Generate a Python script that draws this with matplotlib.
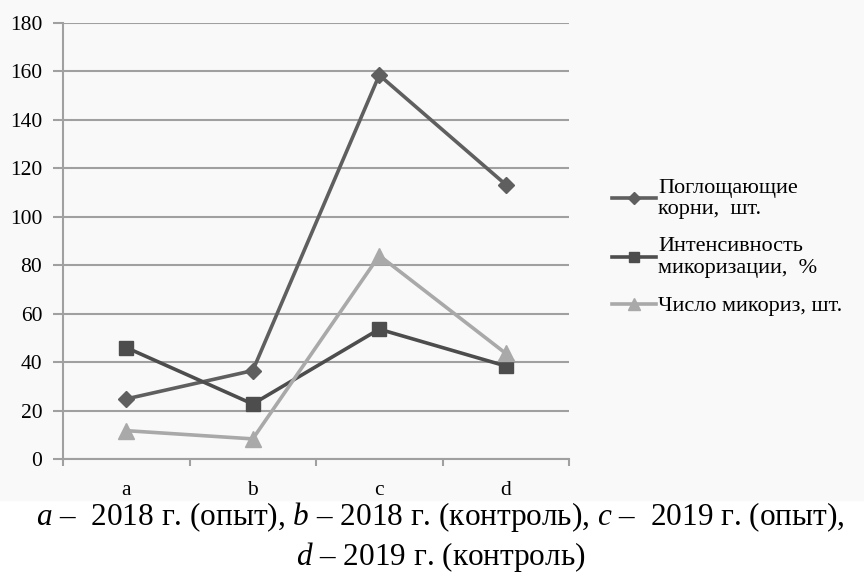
import numpy as np
import matplotlib
matplotlib.use('Agg')
import matplotlib.pyplot as plt
from matplotlib.patches import Rectangle

plt.rcParams['font.family'] = ['Liberation Serif', 'DejaVu Serif']
plt.rcParams['mathtext.fontset'] = 'custom'
plt.rcParams['mathtext.it'] = 'Liberation Serif:italic'
plt.rcParams['mathtext.rm'] = 'Liberation Serif'

categories = ['a', 'b', 'c', 'd']
roots = [24.8, 36.5, 158.5, 113.3]
intensity = [46.0, 22.7, 53.6, 38.4]
mycorrhiza = [11.7, 8.3, 84.0, 43.6]
labels = ['Поглощающие\nкорни,  шт.', 'Интенсивность\nмикоризации,  %', 'Число микориз, шт.']
caption = ('$a$ –  2018 г. (опыт), $b$ – 2018 г. (контроль), $c$ –  2019 г. (опыт),\n'
           '$d$ – 2019 г. (контроль)')

fig = plt.figure(figsize=(8.64, 5.76), dpi=100)
fig.patches.append(Rectangle((0, 1 - 500 / 576), 1, 500 / 576, transform=fig.transFigure,
                             color='#f9f9f9', zorder=-10))
ax = fig.add_axes([63 / 864, 1 - 459 / 576, 506 / 864, 436 / 576])
ax.set_facecolor('#f9f9f9')

x = np.arange(len(categories))
ax.plot(x, roots, color='#5f5f5f', lw=2.6, marker='D', ms=8, label=labels[0])
ax.plot(x, intensity, color='#4d4d4d', lw=2.6, marker='s', ms=10.5, label=labels[1])
ax.plot(x, mycorrhiza, color='#a9a9a9', lw=2.6, marker='^', ms=11, label=labels[2])

ax.set_xlim(-0.5, 3.5)
ax.set_ylim(0, 180)
ax.set_yticks(range(0, 181, 20))
ax.set_xticks(x)
ax.set_xticklabels(categories)
ax.set_xticks(np.arange(-0.5, 3.6, 1), minor=True)
ax.tick_params(axis='x', which='major', length=0, labelsize=15.5, pad=16)
ax.tick_params(axis='x', which='minor', length=5, color='#a0a0a0', width=1.5)
ax.tick_params(axis='y', length=7, color='#a0a0a0', width=1.5, labelsize=15.5, pad=8)
ax.grid(axis='y', color='#a0a0a0', lw=1.5)
ax.set_axisbelow(True)
for s in ['top', 'right']:
    ax.spines[s].set_visible(False)
for s in ['left', 'bottom']:
    ax.spines[s].set_color('#a0a0a0')
    ax.spines[s].set_linewidth(1.5)

ax.legend(loc='center left', bbox_to_anchor=(1.045, 0.485), frameon=False, fontsize=16,
          handlelength=2.0, handletextpad=0.1, labelspacing=0.8, markerscale=0.75)

fig.text(0.51, 1 - 537 / 576, caption, ha='center', va='center', fontsize=22.5, linespacing=1.27)

fig.savefig('out.png', dpi=100)
